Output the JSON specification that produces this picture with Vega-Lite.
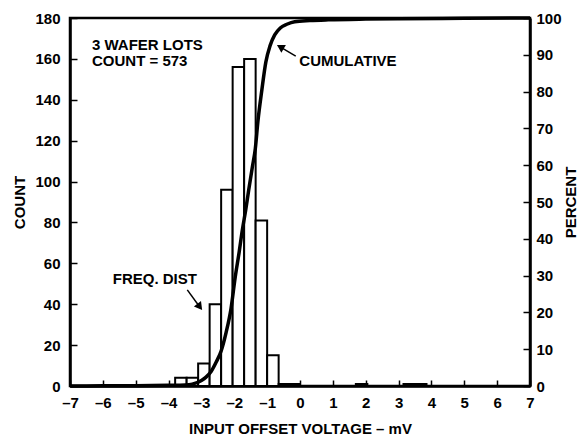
{
  "$schema": "https://vega.github.io/schema/vega-lite/v6.json",
  "width": 460,
  "height": 368,
  "autosize": "none",
  "padding": {"left": 70, "top": 18, "right": 50, "bottom": 53},
  "background": "white",
  "config": {
    "font": "Liberation Sans",
    "view": {"stroke": "black", "strokeWidth": 2.5},
    "axis": {
      "labelFont": "Liberation Sans", "labelFontWeight": "bold", "labelFontSize": 15, "labelColor": "black",
      "titleFont": "Liberation Sans", "titleFontWeight": "bold", "titleFontSize": 15, "titleColor": "black",
      "domainColor": "black", "domainWidth": 2.5, "tickColor": "black", "tickWidth": 1.5, "grid": false,
      "labelOverlap": false, "zindex": 1
    },
    "text": {"font": "Liberation Sans", "fontWeight": "bold", "fontSize": 15, "color": "black"}
  },
  "encoding": {
    "x": {"field": "x", "type": "quantitative", "scale": {"domain": [-7, 7], "nice": false},
      "axis": {"title": "INPUT OFFSET VOLTAGE – mV", "values": [-7,-6,-5,-4,-3,-2,-1,0,1,2,3,4,5,6,7],
        "tickSize": -6, "labelPadding": 15, "titlePadding": 11, "labelOverlap": false, "labelFlush": false,
        "labelExpr": "datum.value < 0 ? '–' + abs(datum.value) : datum.label"}}
  },
  "layer": [
    {
      "layer": [
        {
          "data": {"values": [
            {"x": -3.8, "x1": -3.45, "count": 4},
            {"x": -3.45, "x1": -3.1, "count": 4},
            {"x": -3.1, "x1": -2.75, "count": 11},
            {"x": -2.75, "x1": -2.4, "count": 40},
            {"x": -2.4, "x1": -2.05, "count": 96},
            {"x": -2.05, "x1": -1.7, "count": 156},
            {"x": -1.7, "x1": -1.35, "count": 160},
            {"x": -1.35, "x1": -1.0, "count": 81},
            {"x": -1.0, "x1": -0.65, "count": 15},
            {"x": -0.65, "x1": 0.0, "count": 1},
            {"x": 1.7, "x1": 2.05, "count": 1},
            {"x": 3.15, "x1": 3.85, "count": 1}
          ]},
          "mark": {"type": "rect", "fill": "white", "stroke": "black", "strokeWidth": 2},
          "encoding": {
            "x2": {"field": "x1"},
            "y": {"field": "count", "type": "quantitative", "scale": {"domain": [0, 180], "nice": false},
              "axis": {"title": "COUNT", "orient": "left", "values": [0,20,40,60,80,100,120,140,160,180],
                "tickSize": -7, "labelPadding": 17, "titlePadding": 7, "labelOverlap": false}},
            "y2": {"datum": 0}
          }
        },
        {
          "data": {"values": [
            {"x": -6.33, "count": 164.3, "label": "3 WAFER LOTS"},
            {"x": -6.33, "count": 156.5, "label": "COUNT = 573"},
            {"x": -0.02, "count": 156.5, "label": "CUMULATIVE"},
            {"x": -5.70, "count": 49.9, "label": "FREQ. DIST"}
          ]},
          "mark": {"type": "text", "align": "left", "baseline": "alphabetic"},
          "encoding": {
            "y": {"field": "count", "type": "quantitative"},
            "text": {"field": "label"}
          }
        },
        {
          "data": {"values": [
            {"x": -0.13, "count": 161.4, "xe": -0.63, "ce": 166.1},
            {"x": -3.43, "count": 47, "xe": -3.04, "ce": 38.4}
          ]},
          "mark": {"type": "rule", "stroke": "black", "strokeWidth": 1.5},
          "encoding": {
            "y": {"field": "count", "type": "quantitative"},
            "x2": {"field": "xe"},
            "y2": {"field": "ce"}
          }
        },
        {
          "data": {"values": [
            {"x": -0.60, "count": 165.9, "ang": 300},
            {"x": -3.05, "count": 38.7, "ang": 143}
          ]},
          "mark": {"type": "point", "shape": "triangle-up", "filled": true, "fill": "black", "strokeWidth": 0, "size": 80, "opacity": 1},
          "encoding": {
            "y": {"field": "count", "type": "quantitative"},
            "angle": {"field": "ang", "type": "quantitative", "scale": null}
          }
        }
      ]
    },
    {
      "data": {"values": [
        {"x": -7, "pct": 0}, {"x": -6, "pct": 0.05}, {"x": -5, "pct": 0.1}, {"x": -4, "pct": 0.2},
        {"x": -3.5, "pct": 0.3}, {"x": -3.28, "pct": 0.5}, {"x": -3.0, "pct": 1.5}, {"x": -2.86, "pct": 2.4},
        {"x": -2.7, "pct": 4}, {"x": -2.55, "pct": 6.5}, {"x": -2.4, "pct": 9.5}, {"x": -2.25, "pct": 14.5},
        {"x": -2.1, "pct": 21}, {"x": -1.97, "pct": 29.7}, {"x": -1.85, "pct": 36.5}, {"x": -1.77, "pct": 41.5},
        {"x": -1.65, "pct": 48}, {"x": -1.56, "pct": 53.3}, {"x": -1.45, "pct": 59.5}, {"x": -1.36, "pct": 64.5},
        {"x": -1.28, "pct": 72}, {"x": -1.16, "pct": 80.5}, {"x": -1.04, "pct": 88}, {"x": -0.91, "pct": 92.5},
        {"x": -0.77, "pct": 95.4}, {"x": -0.6, "pct": 97.3}, {"x": -0.4, "pct": 98.3}, {"x": -0.16, "pct": 99.0},
        {"x": 0.3, "pct": 99.3}, {"x": 0.86, "pct": 99.5}, {"x": 2, "pct": 99.7}, {"x": 3, "pct": 99.8},
        {"x": 5, "pct": 99.9}, {"x": 7, "pct": 100}
      ]},
      "mark": {"type": "line", "stroke": "black", "strokeWidth": 3.5, "interpolate": "monotone"},
      "encoding": {
        "y": {"field": "pct", "type": "quantitative", "scale": {"domain": [0, 100], "nice": false},
          "axis": {"title": "PERCENT", "orient": "right", "values": [0,10,20,30,40,50,60,70,80,90,100],
            "tickSize": -7, "labelPadding": 13, "titlePadding": 2, "titleAngle": 270, "titleBaseline": "top", "labelOverlap": false}}
      }
    }
  ],
  "resolve": {"scale": {"y": "independent"}}
}
